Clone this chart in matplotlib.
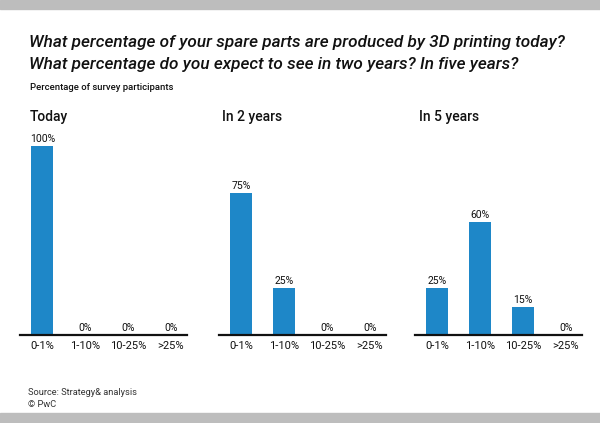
import matplotlib
matplotlib.use("Agg")
import matplotlib.pyplot as plt
from matplotlib.patches import Rectangle

plt.rcParams['font.family'] = ['Roboto', 'DejaVu Sans']

# data
categories = ['0-1%', '1-10%', '10-25%', '>25%']
panel_titles = ['Today', 'In 2 years', 'In 5 years']
today = [100, 0, 0, 0]
in_2_years = [75, 25, 0, 0]
in_5_years = [25, 60, 15, 0]
series = [today, in_2_years, in_5_years]

bar_color = '#1e87c8'
W, H = 600, 423

fig = plt.figure(figsize=(6, 4.23), dpi=100)

# gray bands at top and bottom
fig.add_artist(Rectangle((0, 1 - 9 / H), 1, 9 / H, transform=fig.transFigure,
                         color='#bdbdbd', zorder=0))
fig.add_artist(Rectangle((0, 0), 1, 10 / H, transform=fig.transFigure,
                         color='#bdbdbd', zorder=0))

fig.text(29 / W, 1 - 42 / H, 'What percentage of your spare parts are produced by 3D printing today?',
         fontsize=12.3, style='italic', weight='medium', va='center', ha='left', color='#111111')
fig.text(29 / W, 1 - 65 / H, 'What percentage do you expect to see in two years? In five years?',
         fontsize=12.3, style='italic', weight='medium', va='center', ha='left', color='#111111')
fig.text(30 / W, 1 - 88 / H, 'Percentage of survey participants',
         fontsize=6.8, weight='medium', va='center', ha='left', color='#111111')

panel_lefts = [20, 219, 415]
title_x = [30, 222, 419]
axes_w = 167 / W
base = (H - 335) / H
axes_h = 189 / H

for i, values in enumerate(series):
    ax = fig.add_axes([panel_lefts[i] / W, base, axes_w, axes_h])
    x = range(len(categories))
    bars = ax.bar(x, values, width=0.51, color=bar_color)
    for b, v in zip(bars, values):
        ax.text(b.get_x() + b.get_width() / 2, v + 1, f'{v}%', ha='center', va='bottom',
                fontsize=7.5, color='#111111', clip_on=False)
    ax.set_xlim(-0.52, 3.38)
    ax.set_ylim(0, 100)
    ax.set_xticks(list(x))
    ax.set_xticklabels(categories, fontsize=8, color='#111111')
    ax.tick_params(axis='x', length=0, pad=4)
    ax.set_yticks([])
    for s in ['top', 'right', 'left']:
        ax.spines[s].set_visible(False)
    ax.spines['bottom'].set_linewidth(1.6)
    ax.spines['bottom'].set_color('#111111')
    ax.patch.set_alpha(0)
    fig.text(title_x[i] / W, 1 - 117 / H, panel_titles[i], fontsize=10, weight='medium',
             va='center', ha='left', color='#111111')

fig.text(28 / W, 1 - 392 / H, 'Source: Strategy& analysis', fontsize=6.7,
         va='center', ha='left', color='#333333')
fig.text(28 / W, 1 - 404 / H, '© PwC', fontsize=6.7,
         va='center', ha='left', color='#333333')

fig.savefig('out.png', dpi=100)
